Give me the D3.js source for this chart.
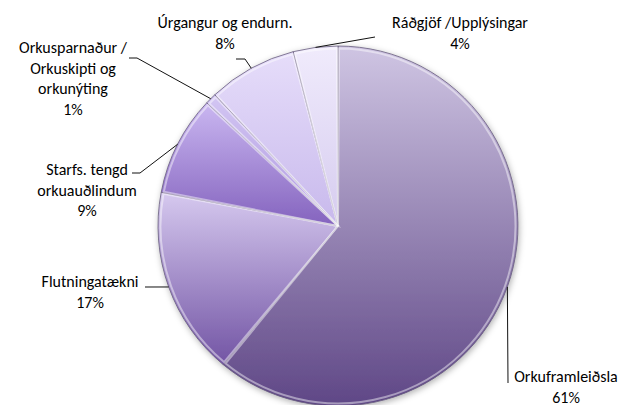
<!DOCTYPE html>
<html>
<head>
<meta charset="utf-8">
<script src="https://cdn.jsdelivr.net/npm/d3@7"></script>
<style>
  body { margin: 0; background: #fff; }
  svg text { font-family: Carlito, Lato, "Open Sans", sans-serif; font-size: 16px; fill: #000; }
</style>
</head>
<body>
<div id="chart"></div>
<script>
// Data
const categories = ["Orkuframleiðsla", "Flutningatækni", "Starfs. tengd orkuauðlindum",
    "Orkusparnaður / Orkuskipti og orkunýting", "Úrgangur og endurn.", "Ráðgjöf /Upplýsingar"];
const values = [61, 17, 9, 1, 8, 4];
const labelLines = [
    ["Orkuframleiðsla"],
    ["Flutningatækni"],
    ["Starfs. tengd", "orkuauðlindum"],
    ["Orkusparnaður /", "Orkuskipti og", "orkunýting"],
    ["Úrgangur og endurn."],
    ["Ráðgjöf /Upplýsingar"]
];

// Colours (top / bottom of each slice gradient)
const topColors = ["#cfc5e3", "#d6c9ef", "#cab7f1", "#d3c6f3", "#e6ddfa", "#f0ebfc"];
const bottomColors = ["#5f4786", "#7254a4", "#8463be", "#ae98df", "#c8b9ec", "#d6ccef"];

// Label layout: anchor of the text block and leader polyline (outside the pie)
const labelLayout = [
    { x: 566, y: 382, leader: [[508, 383]] },
    { x: 90, y: 287, leader: [[145, 287]] },
    { x: 87, y: 175, leader: [[140, 173], [132, 173]] },
    { x: 73, y: 53, leader: [[137, 58], [129, 58]] },
    { x: 225, y: 28, leader: [[245, 59], [236, 59]] },
    { x: 460, y: 28, leader: [[375, 37]] }
];

const width = 633, height = 405;
const cx = 338, cy = 226, radius = 180;

const svg = d3.select("#chart").append("svg")
    .attr("width", width)
    .attr("height", height);

const defs = svg.append("defs");

const shadow = defs.append("filter")
    .attr("id", "shadow")
    .attr("x", "-10%").attr("y", "-10%")
    .attr("width", "120%").attr("height", "120%");
shadow.append("feDropShadow")
    .attr("dx", 1).attr("dy", 2)
    .attr("stdDeviation", 3)
    .attr("flood-color", "#000")
    .attr("flood-opacity", 0.3);

values.forEach((v, i) => {
    const g = defs.append("linearGradient")
        .attr("id", "grad" + i)
        .attr("x1", 0).attr("y1", 0)
        .attr("x2", 0).attr("y2", 1);
    g.append("stop").attr("offset", "0%").attr("stop-color", topColors[i]);
    g.append("stop").attr("offset", "100%").attr("stop-color", bottomColors[i]);
});

const pie = d3.pie().sort(null).value(d => d);
const arcs = pie(values);

const arc = d3.arc().innerRadius(0).outerRadius(radius);
const bevel = d3.arc().innerRadius(0).outerRadius(radius - 2.5).padAngle(0.012);
const edgeArc = d3.arc().innerRadius(radius).outerRadius(radius);

const pieG = svg.append("g")
    .attr("transform", `translate(${cx},${cy})`);

pieG.append("g")
    .attr("filter", "url(#shadow)")
    .selectAll("path")
    .data(arcs)
    .enter()
    .append("path")
    .attr("d", arc)
    .attr("fill", (d, i) => `url(#grad${i})`)
    .attr("stroke", "#675d7c")
    .attr("stroke-width", 0.8);

// bevel highlight
pieG.append("g")
    .selectAll("path")
    .data(arcs)
    .enter()
    .append("path")
    .attr("d", bevel)
    .attr("fill", "none")
    .attr("stroke", "#fff")
    .attr("stroke-opacity", 0.45)
    .attr("stroke-width", 2);

// Leader lines from slice edge midpoint
svg.append("g")
    .selectAll("polyline")
    .data(arcs)
    .enter()
    .append("polyline")
    .attr("points", (d, i) => {
        const c = edgeArc.centroid(d);
        const pts = [[cx + c[0], cy + c[1]]].concat(labelLayout[i].leader);
        return pts.map(p => p.join(",")).join(" ");
    })
    .attr("fill", "none")
    .attr("stroke", "#111")
    .attr("stroke-width", 1);

// Labels
const labels = svg.append("g")
    .selectAll("text")
    .data(arcs)
    .enter()
    .append("text")
    .attr("text-anchor", "middle")
    .attr("x", (d, i) => labelLayout[i].x)
    .attr("y", (d, i) => labelLayout[i].y);

labels.each(function(d, i) {
    const t = d3.select(this);
    const lines = labelLines[i].concat([values[i] + "%"]);
    lines.forEach((line, j) => {
        t.append("tspan")
            .attr("x", labelLayout[i].x)
            .attr("dy", j === 0 ? 0 : 20.5)
            .text(line);
    });
});
</script>
</body>
</html>
